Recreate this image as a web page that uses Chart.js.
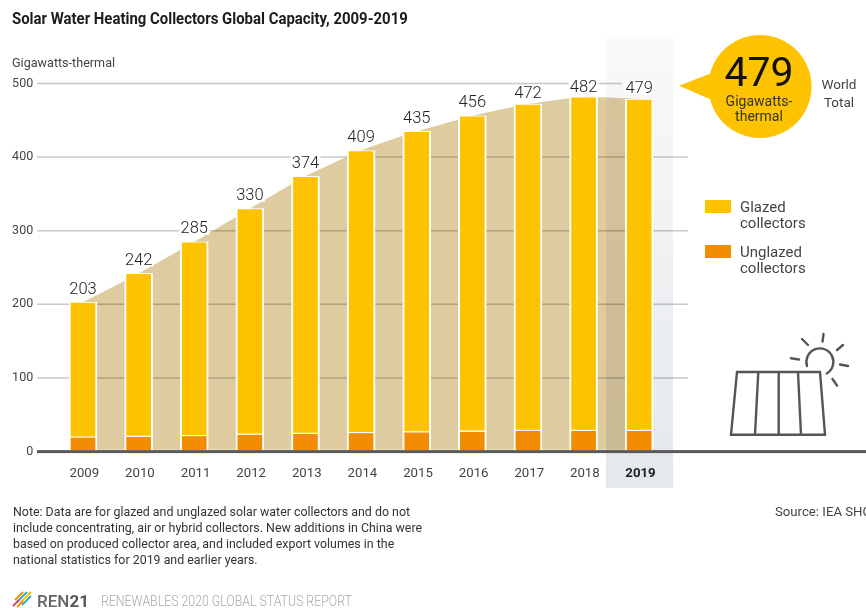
<!DOCTYPE html>
<html>
<head>
<meta charset="utf-8">
<title>Solar Water Heating Collectors Global Capacity</title>
<script src="https://cdn.jsdelivr.net/npm/chart.js@4/dist/chart.umd.min.js"></script>
<style>
  html, body { margin: 0; padding: 0; background: #fff; }
  body { width: 866px; height: 608px; position: relative; overflow: hidden; font-family: Roboto, sans-serif; color: #333; }
  canvas { position: absolute; left: 0; top: 0; }
  .txt { position: absolute; white-space: nowrap; font-weight: 300; }
  #titulo { left: 12px; top: 8px; font-size: 17px; line-height: 20px; font-weight: 700; color: #1c1c1c; transform: scaleX(0.878); transform-origin: left top; }
  #unidade { left: 12px; top: 55px; font-size: 12.6px; line-height: 16px; font-weight: 400; color: #444; }
  #mundo { left: 816px; top: 75px; width: 46px; text-align: center; font-size: 13.5px; line-height: 18px; font-weight: 400; color: #444; }
  .swatch { position: absolute; left: 705px; width: 26px; height: 13px; }
  .leg { left: 740px; font-size: 15px; line-height: 16px; font-weight: 400; color: #444; }
  #nota { left: 13px; top: 504px; font-size: 12.4px; line-height: 16px; font-weight: 400; color: #333; }
  #fonte { left: 775px; top: 504px; font-size: 13.2px; line-height: 16px; font-weight: 400; color: #444; }
  #ren { left: 37px; top: 591px; font-size: 17px; line-height: 20px; font-weight: 500; color: #666; }
  #ren b { font-weight: 700; color: #555; }
  #relatorio { left: 101px; top: 592px; font-size: 14.5px; line-height: 20px; font-weight: 300; color: #a8a8a8; transform: scaleX(0.85); transform-origin: left top; }
  svg { position: absolute; left: 0; top: 0; }
</style>
</head>
<body>
<canvas id="grafico" width="866" height="608"></canvas>

<div class="txt" id="titulo">Solar Water Heating Collectors Global Capacity, 2009-2019</div>
<div class="txt" id="unidade">Gigawatts-thermal</div>
<div class="txt" id="mundo">World<br>Total</div>
<div class="swatch" style="top:200px;background:#FDC300"></div>
<div class="txt leg" style="top:199px">Glazed<br>collectors</div>
<div class="swatch" style="top:245px;background:#F28C00"></div>
<div class="txt leg" style="top:244px">Unglazed<br>collectors</div>
<div class="txt" id="nota">Note: Data are for glazed and unglazed solar water collectors and do not<br>include concentrating, air or hybrid collectors. New additions in China were<br>based on produced collector area, and included export volumes in the<br>national statistics for 2019 and earlier years.</div>
<div class="txt" id="fonte">Source: IEA SHC</div>
<div class="txt" id="ren">REN<b>21</b></div>
<div class="txt" id="relatorio">RENEWABLES 2020 GLOBAL STATUS REPORT</div>

<!-- painel solar e logotipo -->
<svg width="866" height="608" fill="none">
  <g stroke="#555" stroke-width="2.4">
    <path d="M737 372H820L825 434.7H731Z"/>
    <path d="M758.3 372L755 434.7M778.7 372V434.7M798 372L801 434.7"/>
    <path d="M826.7 373.5A13.5 13.5 0 1 0 807 366" stroke-linecap="round"/>
    <path d="M802 339L808 345M823.5 334L822.5 341.5M843 345L837 350M840 364.5L848 366M832.5 379L837 385.5M791 358.3L799 359.5" stroke-linecap="round"/>
  </g>
  <g stroke-width="1.8">
    <path d="M15 600L23 592" stroke="#F28C00"/>
    <path d="M17 602L27 592" stroke="#2FA7C9"/>
    <path d="M20 603L31 592" stroke="#FDC300"/>
    <path d="M13 606L19 600" stroke="#C9417E"/>
    <path d="M22 605L31 596" stroke="#2FA7C9"/>
    <path d="M17 607L23 601" stroke="#F28C00"/>
  </g>
</svg>

<script>
const anos = ['2009', '2010', '2011', '2012', '2013', '2014', '2015', '2016', '2017', '2018', '2019'];
const totais = [203, 242, 285, 330, 374, 409, 435, 456, 472, 482, 479];
const envidracados = [184, 222, 264, 307, 350, 384, 409, 429, 444, 454, 451];
const semVidro = [19, 20, 21, 23, 24, 25, 26, 27, 28, 28, 28];
const ticksY = [0, 100, 200, 300, 400, 500];

// distância do rótulo ao topo da barra; os três últimos ficam mais baixos por causa da linha de 500
const folgaRotulos = [8.5, 8.5, 8.5, 8.5, 8.5, 8.5, 8.5, 8.5, 6.5, 4.5, 6];

const AMARELO = '#FDC300';
const LARANJA = '#F28C00';

// linhas de grade e faixa de 2019, por cima da área e por baixo das barras
const fundoPlugin = {
    id: 'fundo',
    beforeDraw(chart) {
        const ctx = chart.ctx;
        ctx.save();
        ctx.fillStyle = '#fff';
        ctx.fillRect(0, 0, chart.width, chart.height);
        ctx.restore();
    },
    afterDatasetDraw(chart, args) {
        if (args.index !== 2) return;
        const ctx = chart.ctx;
        const y = chart.scales.y;
        ctx.save();
        ctx.globalCompositeOperation = 'multiply';
        ctx.strokeStyle = '#c9c9c9';
        ctx.lineWidth = 1.5;
        ticksY.forEach(v => {
            if (v === 0) return;
            const py = y.getPixelForValue(v);
            ctx.beginPath();
            ctx.moveTo(37, py);
            ctx.lineTo(v === 500 ? 622 : 688, py);
            ctx.stroke();
        });
        const grad = ctx.createLinearGradient(0, 37, 0, 488);
        grad.addColorStop(0, '#f8f9fa');
        grad.addColorStop(1, '#e5e8eb');
        ctx.fillStyle = grad;
        ctx.fillRect(606, 37, 67, 451);
        ctx.restore();
    }
};

// eixo do zero, rótulos dos totais e balão do total mundial
const extrasPlugin = {
    id: 'extras',
    afterDatasetsDraw(chart) {
        const ctx = chart.ctx;
        const x = chart.scales.x;
        const y = chart.scales.y;
        ctx.save();

        ctx.fillStyle = '#5a5a5a';
        ctx.fillRect(37, y.getPixelForValue(0) - 1.5, 829, 3);

        ctx.font = '300 16.5px Roboto';
        ctx.textAlign = 'center';
        ctx.textBaseline = 'alphabetic';
        totais.forEach((t, i) => {
            const px = x.getPixelForValue(i);
            const py = y.getPixelForValue(t) - folgaRotulos[i];
            // fundo branco interrompe a linha de grade atrás do número
            ctx.fillStyle = '#fff';
            ctx.fillRect(px - 15, py - 12.5, 30, 14);
            ctx.fillStyle = '#222';
            ctx.fillText(t, px, py);
        });

        ctx.fillStyle = AMARELO;
        ctx.beginPath();
        ctx.arc(760, 86.5, 51.5, 0, Math.PI * 2);
        ctx.fill();
        ctx.beginPath();
        ctx.moveTo(679, 85.7);
        ctx.lineTo(712, 73);
        ctx.lineTo(712, 100);
        ctx.closePath();
        ctx.fill();

        ctx.fillStyle = '#111';
        ctx.font = '400 41px Roboto';
        ctx.fillText(totais[totais.length - 1], 759, 86);
        ctx.fillStyle = '#333';
        ctx.font = '400 14px Roboto';
        ctx.fillText('Gigawatts-', 759, 106);
        ctx.fillText('thermal', 759, 121);
        ctx.restore();
    }
};

new Chart(document.getElementById('grafico'), {
    type: 'bar',
    data: {
        labels: anos,
        datasets: [
            {
                label: 'Unglazed collectors',
                data: semVidro,
                backgroundColor: LARANJA,
                borderColor: '#fff',
                borderWidth: { left: 2, right: 2, top: 0, bottom: 2 },
                borderSkipped: false,
                barThickness: 28,
                order: 1
            },
            {
                label: 'Glazed collectors',
                data: envidracados,
                backgroundColor: AMARELO,
                borderColor: '#fff',
                borderWidth: { left: 2, right: 2, top: 1, bottom: 1.5 },
                borderSkipped: false,
                barThickness: 28,
                order: 2
            },
            {
                type: 'line',
                label: 'World Total',
                data: totais,
                backgroundColor: '#DFCBA0',
                borderWidth: 0,
                pointRadius: 0,
                tension: 0.15,
                fill: { value: 2.5 },
                order: 3
            }
        ]
    },
    options: {
        responsive: false,
        animation: false,
        layout: { padding: { top: 83.5, right: 199, bottom: 608 - 451.6 - 40, left: 0 } },
        plugins: { legend: { display: false }, tooltip: { enabled: false } },
        scales: {
            x: {
                stacked: true,
                grid: { display: false, drawTicks: false },
                border: { display: false },
                afterFit: s => { s.height = 40; },
                ticks: {
                    padding: 14,
                    maxRotation: 0,
                    labelOffset: 1.3,
                    color: ctx => (ctx.index === 10 ? '#222' : '#444'),
                    font: ctx => ({ family: 'Roboto', size: 13.2, weight: ctx.index === 10 ? '700' : '400' })
                }
            },
            y: {
                stacked: true,
                min: 0,
                max: 500,
                grid: { display: false, drawTicks: false },
                border: { display: false },
                afterFit: s => { s.width = 55.2; },
                afterBuildTicks: s => { s.ticks = ticksY.map(v => ({ value: v })); },
                ticks: {
                    padding: 22,
                    color: '#444',
                    font: { family: 'Roboto', size: 12.5 }
                }
            }
        }
    },
    plugins: [fundoPlugin, extrasPlugin]
});
</script>
</body>
</html>
